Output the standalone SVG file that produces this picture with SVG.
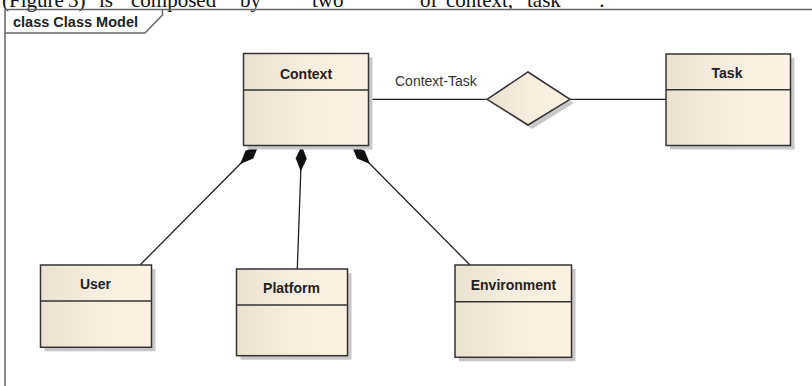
<svg xmlns="http://www.w3.org/2000/svg" width="812" height="386" viewBox="0 0 812 386">
  <defs>
    <linearGradient id="fill" x1="0" y1="0" x2="1" y2="0">
      <stop offset="0" stop-color="#ebe1d1"/>
      <stop offset="0.5" stop-color="#f7eddf"/>
      <stop offset="1" stop-color="#fbf2e4"/>
    </linearGradient>
    <marker id="comp" viewBox="0 0 26 12" refX="0" refY="6" markerWidth="26" markerHeight="12" markerUnits="userSpaceOnUse" orient="auto">
      <path d="M0,6 L13,0.5 L26,6 L13,11.5 Z" fill="#111"/>
    </marker>
    <style>
      .box { fill: url(#fill); stroke: #333; stroke-width: 1.5; }
      .shadow { fill: #c8c8c8; }
      .div { stroke: #333; stroke-width: 1.5; }
      .name { font-family: "Liberation Sans", Arial, sans-serif; font-size: 14px; font-weight: bold; fill: #222; text-anchor: middle; }
      .label { font-family: "Liberation Sans", Arial, sans-serif; font-size: 14px; fill: #333; }
      .conn { stroke: #222; stroke-width: 1.3; fill: none; }
      .frame { stroke: #666; stroke-width: 1.5; fill: none; }
      .top { font-family: "Liberation Serif", "Times New Roman", serif; font-size: 21px; fill: #111; }
    </style>
  </defs>

  <rect width="812" height="386" fill="#ffffff"/>

  <g id="caption">
    <text class="top" y="6.5"><tspan x="2">(Figure</tspan><tspan x="68">3)</tspan><tspan x="99">is</tspan><tspan x="131">composed</tspan><tspan x="240">by</tspan><tspan x="312">two</tspan><tspan x="360">“</tspan><tspan x="420">of</tspan><tspan x="446">context,</tspan><tspan x="527">task</tspan><tspan x="590">”.</tspan></text>
  </g>

  <g id="frame">
    <path class="frame" d="M5,386 L5,9.5 L812,9.5"/>
    <path class="frame" d="M5,33 L145,33 L162.5,15 L162.5,9.5"/>
    <text class="name" x="13" y="26.5" style="text-anchor:start" textLength="125" lengthAdjust="spacingAndGlyphs">class Class Model</text>
  </g>

  <g id="connectors">
    <path class="conn" d="M368.5,99.3 L487,99.3"/>
    <path class="conn" d="M570,99.3 L666,99.3"/>
    <path class="conn" marker-start="url(#comp)" d="M258.5,145.5 L140,265"/>
    <path class="conn" marker-start="url(#comp)" d="M301.7,145.5 L297.3,269"/>
    <path class="conn" marker-start="url(#comp)" d="M351.7,145.5 L470,265"/>
    <text class="label" x="395" y="85.7">Context-Task</text>
  </g>

  <g id="context-task">
    <polygon class="shadow" points="491,103 532,76 574,103 532,129"/>
    <polygon class="box" points="487,99.3 528,72 570,99.3 528,125"/>
  </g>

  <g id="context">
    <rect class="shadow" x="247.5" y="57.5" width="125" height="92"/>
    <rect class="box" x="243.5" y="53.5" width="125" height="92"/>
    <line class="div" x1="243.5" y1="90" x2="368.5" y2="90"/>
    <text class="name" x="306" y="79">Context</text>
  </g>

  <g id="task">
    <rect class="shadow" x="670" y="58" width="124.5" height="91.5"/>
    <rect class="box" x="666" y="54" width="124.5" height="91.5"/>
    <line class="div" x1="666" y1="89.7" x2="790.5" y2="89.7"/>
    <text class="name" x="727" y="78.3">Task</text>
  </g>

  <g id="user">
    <rect class="shadow" x="44.5" y="269" width="111" height="82.3"/>
    <rect class="box" x="40.5" y="265" width="111" height="82.3"/>
    <line class="div" x1="40.5" y1="301" x2="151.5" y2="301"/>
    <text class="name" x="95.5" y="289.3">User</text>
  </g>

  <g id="platform">
    <rect class="shadow" x="240.5" y="273" width="111" height="86.7"/>
    <rect class="box" x="236.5" y="269" width="111" height="86.7"/>
    <line class="div" x1="236.5" y1="305" x2="347.5" y2="305"/>
    <text class="name" x="291.5" y="293.3">Platform</text>
  </g>

  <g id="environment">
    <rect class="shadow" x="459" y="269" width="116.5" height="92.3"/>
    <rect class="box" x="455" y="265" width="116.5" height="92.3"/>
    <line class="div" x1="455" y1="301.7" x2="571.5" y2="301.7"/>
    <text class="name" x="513.5" y="290">Environment</text>
  </g>
</svg>
